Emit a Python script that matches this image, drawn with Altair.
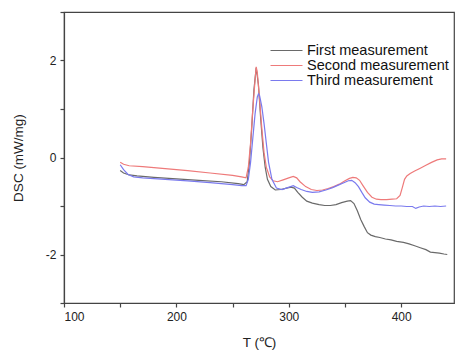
import altair as alt
import pandas as pd

series_names = ["First measurement", "Second measurement", "Third measurement"]

first_x = [150, 153, 158, 165, 180, 200, 220, 240, 255, 260, 263, 265, 267, 269, 271, 273, 275, 277, 279, 281, 284, 288, 293, 298, 302, 305, 308, 312, 316, 321, 327, 332, 337, 342, 347, 352, 355, 358, 361, 364, 367, 370, 373, 377, 381, 386, 391, 396, 402, 407, 412, 417, 422, 426, 430, 434, 438, 441]
first_y = [-0.27, -0.32, -0.36, -0.38, -0.41, -0.44, -0.47, -0.50, -0.54, -0.56, -0.50, -0.1, 0.6, 1.4, 1.85, 1.5, 0.8, 0.2, -0.2, -0.45, -0.6, -0.67, -0.66, -0.63, -0.61, -0.63, -0.72, -0.82, -0.90, -0.94, -0.97, -0.99, -0.99, -0.97, -0.93, -0.90, -0.89, -0.95, -1.10, -1.28, -1.42, -1.55, -1.60, -1.63, -1.65, -1.68, -1.70, -1.73, -1.75, -1.78, -1.82, -1.86, -1.90, -1.95, -1.96, -1.97, -1.99, -2.00]

second_x = [150, 153, 158, 170, 190, 210, 230, 250, 258, 262, 264, 266, 268, 270, 271, 272, 274, 276, 278, 280, 283, 286, 290, 295, 300, 304, 307, 310, 315, 320, 325, 330, 335, 340, 345, 350, 354, 357, 360, 363, 366, 370, 374, 378, 382, 387, 392, 396, 399, 401, 403, 405, 408, 412, 417, 422, 427, 432, 436, 440]
second_y = [-0.10, -0.14, -0.17, -0.19, -0.23, -0.27, -0.32, -0.37, -0.40, -0.42, -0.2, 0.3, 1.0, 1.6, 1.87, 1.75, 1.2, 0.6, 0.1, -0.2, -0.40, -0.48, -0.50, -0.46, -0.42, -0.39, -0.42, -0.50, -0.60, -0.66, -0.68, -0.67, -0.64, -0.60, -0.55, -0.48, -0.43, -0.41, -0.42, -0.47, -0.58, -0.72, -0.82, -0.86, -0.87, -0.87, -0.86, -0.85, -0.78, -0.62, -0.45, -0.38, -0.33, -0.28, -0.22, -0.16, -0.10, -0.05, -0.03, -0.03]

third_x = [150, 153, 157, 162, 170, 190, 210, 230, 250, 258, 262, 264, 266, 268, 270, 272, 273, 274, 276, 278, 280, 282, 285, 289, 294, 299, 304, 307, 311, 316, 321, 327, 333, 339, 344, 349, 353, 356, 359, 362, 365, 368, 372, 376, 380, 385, 390, 395, 400, 405, 410, 413, 416, 420, 425, 430, 435, 440]
third_y = [-0.15, -0.25, -0.35, -0.40, -0.42, -0.45, -0.48, -0.52, -0.56, -0.58, -0.58, -0.45, -0.1, 0.4, 0.9, 1.25, 1.31, 1.28, 1.05, 0.7, 0.3, -0.1, -0.45, -0.63, -0.66, -0.62, -0.58, -0.62, -0.66, -0.70, -0.72, -0.71, -0.67, -0.62, -0.57, -0.52, -0.48, -0.47, -0.52, -0.60, -0.72, -0.83, -0.92, -0.96, -0.97, -0.98, -0.99, -1.00, -1.00, -1.01, -1.01, -1.05, -1.02, -1.00, -1.01, -1.00, -1.01, -1.00]

x_ticks = [100, 150, 200, 250, 300, 350, 400]
y_ticks = [-3, -2, -1, 0, 1, 2, 3]
colors = ["#6a6a6a", "#ee7a7a", "#7a7aee"]

rows = []
for name, xs, ys in zip(series_names, [first_x, second_x, third_x], [first_y, second_y, third_y]):
    for i, (a, b) in enumerate(zip(xs, ys)):
        rows.append({"series": name, "T": a, "DSC": b, "order": i})
df = pd.DataFrame(rows)

font = "Liberation Sans"

chart = alt.Chart(df).mark_line(strokeWidth=1.2, clip=True).encode(
    x=alt.X("T:Q", title="T (℃)",
            scale=alt.Scale(domain=[100, 447], nice=False, zero=False),
            axis=alt.Axis(values=x_ticks, labelExpr="datum.value % 100 == 0 ? '' + datum.value : ''",
                          grid=False, tickSize=4, labelPadding=4, titlePadding=13)),
    y=alt.Y("DSC:Q", title="DSC (mW/mg)",
            scale=alt.Scale(domain=[-3, 3], nice=False, zero=False),
            axis=alt.Axis(values=y_ticks, labelExpr="datum.value % 2 == 0 ? '' + datum.value : ''",
                          grid=False, tickSize=4, labelPadding=4, titlePadding=20)),
    color=alt.Color("series:N", sort=series_names,
                    scale=alt.Scale(domain=series_names, range=colors),
                    legend=alt.Legend(title=None, orient="none", legendX=214, legendY=30,
                                      symbolType="M-2,0L2,0", symbolSize=256,
                                      symbolStrokeWidth=1, labelOffset=12, rowPadding=0,
                                      labelFontSize=14.5, labelFont=font, labelColor="#111")),
    order="order:Q",
).properties(
    width=390, height=291,
    autosize=alt.AutoSizeParams(type="none"),
    padding={"left": 64, "top": 12, "right": 5, "bottom": 50},
).configure_view(
    stroke="#444", strokeWidth=1.2
).configure_axis(
    labelFont=font, titleFont=font, labelFontSize=12, titleFontSize=13.5,
    labelColor="#222", titleColor="#222", titleFontWeight="normal",
    domainColor="#444", tickColor="#444", domainWidth=1.2, tickWidth=1.2,
)

chart.save("out.html", embed_options={"renderer": "svg", "actions": False})
